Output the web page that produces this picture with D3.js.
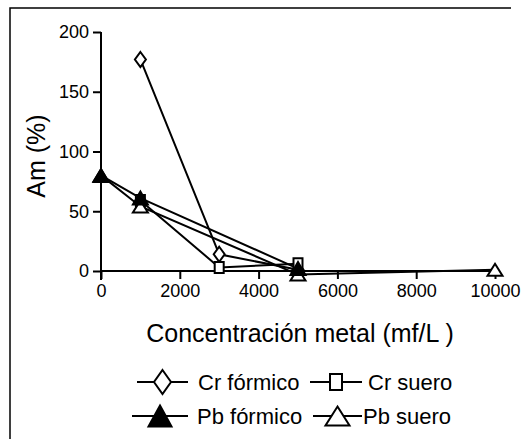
<!DOCTYPE html>
<html>
<head>
<meta charset="utf-8">
<script src="https://cdn.jsdelivr.net/npm/d3@7"></script>
<style>
  body { margin: 0; background: #fff; }
  text { font-family: "Liberation Sans", Arial, sans-serif; fill: #000; }
</style>
</head>
<body>
<script>
// data
var xTicks = [0, 2000, 4000, 6000, 8000, 10000];
var yTicks = [0, 50, 100, 150, 200];

var crFormicoX = [1000, 3000, 5000];
var crFormicoY = [177, 14, 1];
var crSueroX = [1000, 3000, 5000];
var crSueroY = [59, 3, 6];
var pbSueroX = [0, 1000, 5000, 10000];
var pbSueroY = [80, 54, -3, 1];
var pbFormicoX = [0, 1000, 5000];
var pbFormicoY = [80, 61, 2];

var seriesNames = ["Cr fórmico", "Cr suero", "Pb fórmico", "Pb suero"];

var width = 532, height = 439;

var svg = d3.select("body").append("svg")
	.attr("width", width)
	.attr("height", height);

// frame (only top and left edges visible)
svg.append("path")
	.attr("d", "M10," + height + "V8H511")
	.style("fill", "none")
	.style("stroke", "#000")
	.style("stroke-width", 1.5);

var xScale = d3.scaleLinear().domain([0, 10000]).range([101, 495]);
var yScale = d3.scaleLinear().domain([0, 200]).range([271, 32]);

// marker shapes, w/h are full width/height
function markerPath(type, w, h) {
	var a = w / 2, b = h / 2;
	if (type == "diamond") return "M0," + (-b) + "L" + a + ",0L0," + b + "L" + (-a) + ",0Z";
	if (type == "square") return "M" + (-a) + "," + (-b) + "H" + a + "V" + b + "H" + (-a) + "Z";
	return "M0," + (-b) + "L" + a + "," + b + "H" + (-a) + "Z";
}

// axes
var yAxis = d3.axisLeft(yScale).tickValues(yTicks).tickSize(8).tickPadding(4);
var xAxis = d3.axisBottom(xScale).tickValues(xTicks).tickSize(8).tickPadding(5)
	.tickFormat(d3.format("d"));

var gy = svg.append("g")
	.attr("transform", "translate(101,0)")
	.call(yAxis);
var gx = svg.append("g")
	.attr("transform", "translate(0,271)")
	.call(xAxis);

[gx, gy].forEach(function(g) {
	g.select(".domain").style("stroke", "#000").style("stroke-width", 2);
	g.selectAll(".tick line").style("stroke", "#000").style("stroke-width", 2);
	g.selectAll(".tick text")
		.style("font-family", "'Liberation Sans', Arial, sans-serif")
		.style("font-size", "18px")
		.style("fill", "#000");
});
gy.select(".domain").attr("d", "M0,32V280");
gx.select(".domain").attr("d", "M101,0H495");

// axis titles
svg.append("text")
	.attr("x", 300)
	.attr("y", 342)
	.attr("text-anchor", "middle")
	.style("font-size", "25px")
	.text("Concentración metal (mf/L )");

svg.append("text")
	.attr("transform", "translate(45,156) rotate(-90)")
	.attr("text-anchor", "middle")
	.style("font-size", "25px")
	.text("Am (%)");

// series
var series = [
	{ name: seriesNames[0], xs: crFormicoX, ys: crFormicoY, shape: "diamond", fill: "#fff", w: 11, h: 15 },
	{ name: seriesNames[1], xs: crSueroX, ys: crSueroY, shape: "square", fill: "#fff", w: 9, h: 11 },
	{ name: seriesNames[3], xs: pbSueroX, ys: pbSueroY, shape: "triangle", fill: "#fff", w: 15, h: 12 },
	{ name: seriesNames[2], xs: pbFormicoX, ys: pbFormicoY, shape: "triangle", fill: "#000", w: 15, h: 13 }
];

var line = d3.line()
	.x(d => xScale(d[0]))
	.y(d => yScale(d[1]));

series.forEach(function(s) {
	s.points = s.xs.map((x, i) => [x, s.ys[i]]);
	svg.append("path")
		.datum(s.points)
		.attr("d", line)
		.style("fill", "none")
		.style("stroke", "#000")
		.style("stroke-width", 2);
});

series.forEach(function(s) {
	svg.append("g").selectAll("path")
		.data(s.points)
		.enter().append("path")
		.attr("transform", d => "translate(" + xScale(d[0]) + "," + yScale(d[1]) + ")")
		.attr("d", markerPath(s.shape, s.w, s.h))
		.style("fill", s.fill)
		.style("stroke", "#000")
		.style("stroke-width", 2);
});

// legend
var legendItems = [
	{ name: seriesNames[0], shape: "diamond", fill: "#fff", w: 17, h: 24, x1: 137, x2: 188, y: 382, tx: 198 },
	{ name: seriesNames[1], shape: "square", fill: "#fff", w: 12, h: 16, x1: 310, x2: 362, y: 382, tx: 368 },
	{ name: seriesNames[2], shape: "triangle", fill: "#000", w: 23, h: 21, x1: 132, x2: 188, y: 416, tx: 197 },
	{ name: seriesNames[3], shape: "triangle", fill: "#fff", w: 24, h: 19, x1: 313, x2: 362, y: 416, tx: 363 }
];

var legend = svg.append("g").selectAll("g")
	.data(legendItems)
	.enter().append("g");

legend.append("line")
	.attr("x1", d => d.x1)
	.attr("x2", d => d.x2)
	.attr("y1", d => d.y)
	.attr("y2", d => d.y)
	.style("stroke", "#000")
	.style("stroke-width", 2);

legend.append("path")
	.attr("transform", d => "translate(" + (d.x1 + d.x2) / 2 + "," + d.y + ")")
	.attr("d", d => markerPath(d.shape, d.w, d.h))
	.style("fill", d => d.fill)
	.style("stroke", "#000")
	.style("stroke-width", 2);

legend.append("text")
	.attr("x", d => d.tx)
	.attr("y", d => d.y + 8)
	.style("font-size", "22px")
	.text(d => d.name);
</script>
</body>
</html>
